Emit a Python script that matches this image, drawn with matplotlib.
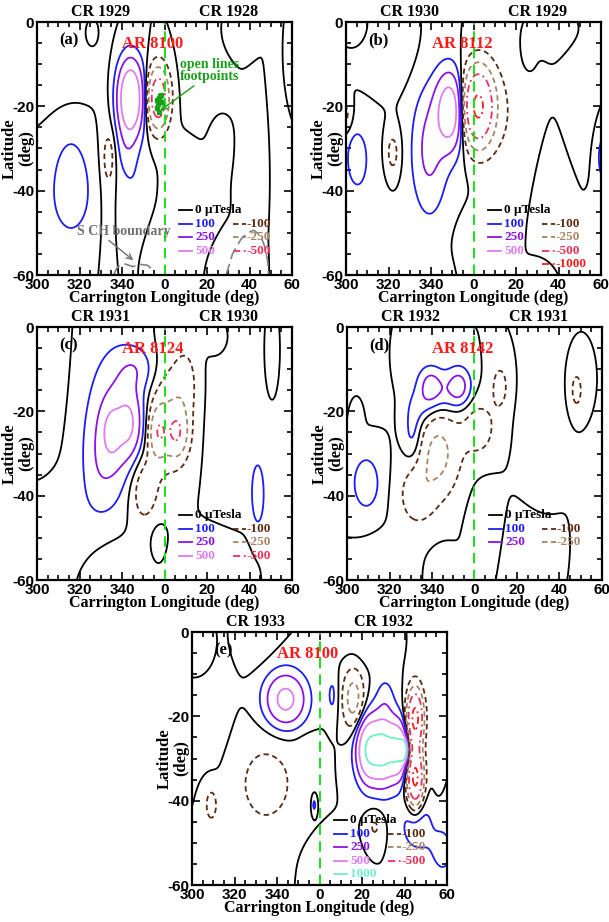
import numpy as np
import matplotlib.pyplot as plt
from matplotlib.ticker import FixedLocator, FixedFormatter, MultipleLocator

plt.rcParams['axes.unicode_minus'] = False

# magnetic sources per panel: (lon, lat, sigma_lon, sigma_lat, amplitude in uT)
blobs_a = [(344, -18, 4.0, 5.9, 930), (342, -30, 3, 5, 110), (357, -18, 3.4, 4.8, -800),
           (316, -37, 6, 8, 150), (334, -32, 2.0, 4.0, -110),
           (310, -6, 12, 8, -60), (316, -44, 12, 8, 60), (333, -38, 2.5, 14, -70),
           (346, -40, 4, 10, 70), (378, -12, 6, 8, 60), (372, -42, 6, 8, -50),
           (404, -36, 4, 10, 60), (413, -30, 2.5, 25, -60), (418, -8, 2, 6, 50),
           (395, -3, 5, 3, -40), (360, -55, 8, 5, -50), (395, -58, 8, 4, 40),
           (385, -28, 3, 4, -40), (325, -3, 3, 3, 40)]
blobs_b = [(349, -21, 4.5, 6, 750), (339, -30, 5, 9, 220), (362, -20, 5, 6, -1100),
           (305, -32, 3, 4, 160), (322, -31, 2.5, 4, -150), (422, -32, 3, 5, 170),
           (300, -22, 2, 3, -130), (392, -62, 4, 3, -130),
           (340, -32, 8, 14, 80), (376, -22, 8, 12, -80), (307, -38, 7, 12, 60),
           (318, -8, 10, 6, -60), (305, -2, 4, 3, 50), (398, -45, 6, 10, 50),
           (410, -18, 5, 10, -50), (398, -3, 8, 3, 40), (362, -52, 8, 5, -50),
           (330, -58, 10, 3, 40), (418, -50, 3, 6, 40), (385, -8, 3, 4, 40)]
blobs_c = [(343, -23, 4, 5, 350), (335, -25, 3, 4, 330), (338, -22, 9, 11, 300),
           (330, -33, 6, 8, 150), (347, -10, 6, 3.5, 150),
           (357, -25, 3, 4, -350), (366, -25, 3.5, 4, -380), (361, -22, 7, 9, -220),
           (350, -38, 5, 6, -200), (370, -13, 4, 6, -130),
           (404, -40, 2.5, 6, 160), (335, -62, 3, 2, -130),
           (305, -10, 5, 10, -60), (318, -45, 8, 6, 40), (340, -55, 10, 4, -40),
           (357, -51, 2.5, 3, 70), (395, -20, 10, 14, 50), (410, -8, 2, 6, -50),
           (380, -55, 12, 4, -50), (415, -55, 4, 4, 50), (385, -3, 4, 3, -40)]
blobs_d = [(339, -14, 3.5, 3, 250), (353, -14, 3.5, 3, 250), (346, -15, 7, 3.5, 200),
           (331, -25, 3, 5, 160), (335, -19, 4, 3, 110),
           (343, -30, 7, 7, -300), (333, -40, 6, 5, -180),
           (362, -24, 6, 5, -160), (372, -14, 3, 4, -150),
           (309, -37, 5, 5, 180), (408, -15, 2.5, 4, -140),
           (310, -10, 6, 6, -50), (328, -8, 5, 4, 40), (393, -28, 7, 12, 60),
           (390, -50, 10, 6, -40), (345, -57, 4, 3, 50), (318, -55, 8, 4, -40),
           (365, -45, 5, 6, 50), (412, -50, 4, 10, 50), (305, -20, 2, 3, 40)]
blobs_e = [(344, -16, 6.5, 4.3, 600), (366, -15, 2, 4, 120),
           (383, -28, 3.5, 4.5, 850), (390, -28, 3.5, 4.5, 850), (397, -28, 3, 4, 900),
           (399.5, -28, 1.2, 1.5, 1500), (389, -28, 7, 7, 300), (391, -16, 3, 4, 120),
           (405, -20, 2.5, 4, -900), (405, -35, 2.5, 4, -900), (405, -27, 2.5, 8, -400),
           (376, -16, 3.5, 5, -350), (335, -36, 11, 8, -150), (355, -29, 4, 3, -80),
           (309, -41, 2.5, 3.5, -140), (406, -46, 6, 5, 170), (418, -52, 4, 4, 150),
           (357.5, -41, 0.8, 1.5, 140), (386, -46, 3, 3, -120),
           (310, -20, 6, 10, 40), (325, -55, 10, 5, -50), (365, -55, 8, 5, 40),
           (415, -20, 2, 15, -40), (380, -5, 8, 3, 40), (305, -5, 4, 4, -40),
           (330, -3, 6, 4, -40)]

cr_labels = [("CR 1929", "CR 1928"), ("CR 1930", "CR 1929"), ("CR 1931", "CR 1930"),
             ("CR 1932", "CR 1931"), ("CR 1933", "CR 1932")]
ar_labels = ["AR 8100", "AR 8112", "AR 8124", "AR 8142", "AR 8100"]
panel_tags = ["(a)", "(b)", "(c)", "(d)", "(e)"]
legend_pos = [[100, 250, 500], [100, 250, 500], [100, 250, 500], [100, 250], [100, 250, 500, 1000]]
legend_neg = [[-100, -250, -500], [-100, -250, -500, -1000], [-100, -250, -500], [-100, -250],
              [-100, -250, -500]]

# coronal hole boundary and open field footpoints (panel a)
ch1_lon = [336, 338, 341, 345, 349, 352, 355]
ch1_lat = [-60, -58, -57.3, -58, -57.5, -57.7, -59]
ch2_lon = [389, 392, 396, 399, 402, 405, 407, 408.5, 409]
ch2_lat = [-60, -55, -51.5, -50, -49.4, -50.5, -53, -56.5, -60]
fp_lon = [356.5, 357.3, 358.0, 358.5, 357.0, 356.7, 358.5, 357.5]
fp_lat = [-18.5, -18.0, -17.5, -17.2, -19.5, -20.3, -19.0, -21.3]

xtick_vals = [300, 320, 340, 360, 380, 400, 420]
xtick_text = ["300", "320", "340", "0", "20", "40", "60"]
ytick_vals = [0, -20, -40, -60]
ytick_text = ["0", "-20", "-40", "-60"]

pos_levels = [100, 250, 500, 1000, 2500]
pos_colors = ["#1c1cf5", "#8a12e6", "#e07cf0", "#6ff0c8", "#10e0ff"]
neg_levels = [-1000, -500, -250, -100]
neg_colors = ["#ff1a1a", "#e8305a", "#a88462", "#5c2a10"]
neg_styles = [(0, (4, 2, 1, 2)), (0, (4, 2, 1, 2)), (0, (3, 2)), (0, (3, 2))]
col_of = dict(zip(pos_levels + neg_levels, pos_colors + neg_colors))
sty_of = dict(zip(neg_levels, neg_styles))

serif = "Liberation Serif"
sans = "Liberation Sans"

lon = np.arange(295, 425.01, 0.5)
lat = np.arange(-65, 5.01, 0.5)
LON, LAT = np.meshgrid(lon, lat)


def field(blobs):
    b = np.zeros_like(LON)
    for x0, y0, sx, sy, a in blobs:
        b += a * np.exp(-0.5 * ((LON - x0) / sx) ** 2 - 0.5 * ((LAT - y0) / sy) ** 2)
    return b


def draw_panel(ax, blobs, k):
    B = field(blobs)
    ax.contour(LON, LAT, B, levels=[0], colors="black", linewidths=1.3)
    ax.contour(LON, LAT, B, levels=pos_levels, colors=pos_colors, linewidths=1.3)
    cn = ax.contour(LON, LAT, B, levels=neg_levels, colors=neg_colors, linewidths=1.3)
    cn.set_linestyles(neg_styles)
    ax.axvline(360, color="#22dd22", lw=1.5, ls=(0, (5, 3)))
    ax.set_xlim(300, 420)
    ax.set_ylim(-60, 0)
    ax.xaxis.set_major_locator(FixedLocator(xtick_vals))
    ax.xaxis.set_major_formatter(FixedFormatter(xtick_text))
    ax.yaxis.set_major_locator(FixedLocator(ytick_vals))
    ax.yaxis.set_major_formatter(FixedFormatter(ytick_text))
    ax.xaxis.set_minor_locator(MultipleLocator(5))
    ax.yaxis.set_minor_locator(MultipleLocator(5))
    ax.tick_params(which="both", direction="in", top=True, right=True, width=1.2)
    ax.tick_params(which="major", length=6, pad=2, labelsize=11)
    ax.tick_params(which="minor", length=3.5)
    for lab in ax.get_xticklabels() + ax.get_yticklabels():
        lab.set_fontfamily(sans)
        lab.set_fontweight("bold")
    for s in ax.spines.values():
        s.set_linewidth(1.6)
    ax.set_xlabel("Carrington Longitude (deg)", family=serif, weight="bold", fontsize=11.5,
                  labelpad=-1)
    ax.text(-0.075, 0.5, "Latitude\n(deg)", transform=ax.transAxes, rotation=90, ha="center",
            va="center", family=serif, weight="bold", fontsize=12, linespacing=1.0)
    tr = ax.get_xaxis_transform()
    ax.text(330, 1.022, cr_labels[k][0], transform=tr, ha="center", va="baseline",
            family=serif, weight="bold", fontsize=11.5)
    ax.text(390, 1.022, cr_labels[k][1], transform=tr, ha="center", va="baseline",
            family=serif, weight="bold", fontsize=11.5)
    ax.text(310.5, -4.3, panel_tags[k], ha="left", va="center", family=serif, weight="bold",
            fontsize=12)
    ax.text(354.5, -5.3, ar_labels[k], ha="center", va="center", color="#ff1a1a", family=serif,
            weight="bold", fontsize=12)
    # legend
    y0 = -44.7
    step = 3.2
    fs = 9.5
    ax.plot([367, 373], [y0, y0], color="black", lw=1.3)
    ax.text(374.5, y0, "0 \u03bcTesla", ha="left", va="center", family=serif, weight="bold",
            fontsize=fs)
    for i, v in enumerate(legend_pos[k]):
        y = y0 - step * (i + 1)
        ax.plot([367, 373], [y, y], color=col_of[v], lw=1.3)
        ax.text(374.5, y, str(v), ha="left", va="center", color=col_of[v], family=serif,
                weight="bold", fontsize=fs)
    for i, v in enumerate(legend_neg[k]):
        y = y0 - step * (i + 1)
        ax.plot([392, 398.5], [y, y], color=col_of[v], lw=1.3, ls=sty_of[v])
        ax.text(398.8, y, str(v), ha="left", va="center", color=col_of[v], family=serif,
                weight="bold", fontsize=fs)


fig = plt.figure(figsize=(6.09, 9.22), dpi=100)
W, H = 609, 922
rects = [(37, 22), (346, 22), (37, 327), (347, 327), (192, 632)]
all_blobs = [blobs_a, blobs_b, blobs_c, blobs_d, blobs_e]
for k, (x0, y0) in enumerate(rects):
    ax = fig.add_axes([x0 / W, 1 - (y0 + 253) / H, 255 / W, 253 / H])
    draw_panel(ax, all_blobs[k], k)
    if k == 0:
        ax.plot(ch1_lon, ch1_lat, color="#808080", lw=1.2, ls=(0, (7, 3)), clip_on=False)
        ax.plot(ch2_lon, ch2_lat, color="#808080", lw=1.2, ls=(0, (7, 3)), clip_on=False)
        ax.annotate("S CH boundary", xy=(345.3, -56.5), xytext=(341, -49.6), ha="center",
                    va="center", color="#707070", family=serif, weight="bold", fontsize=10,
                    arrowprops=dict(arrowstyle="->", color="#707070", lw=1.0,
                                    shrinkA=0, shrinkB=0, relpos=(0.3, 0.0)))
        ax.plot(fp_lon, fp_lat, "s", color="#18a018", ms=3)
        ax.annotate("open lines\nfootpoints", xy=(358, -21), xytext=(367.3, -11.5), ha="left",
                    va="center", color="#18a018", family=serif, weight="bold", fontsize=10,
                    linespacing=0.9,
                    arrowprops=dict(arrowstyle="->", color="#18a018", lw=1.0,
                                    shrinkA=0, shrinkB=0, relpos=(0.3, 0.0)))

fig.savefig("out.png", dpi=100)
